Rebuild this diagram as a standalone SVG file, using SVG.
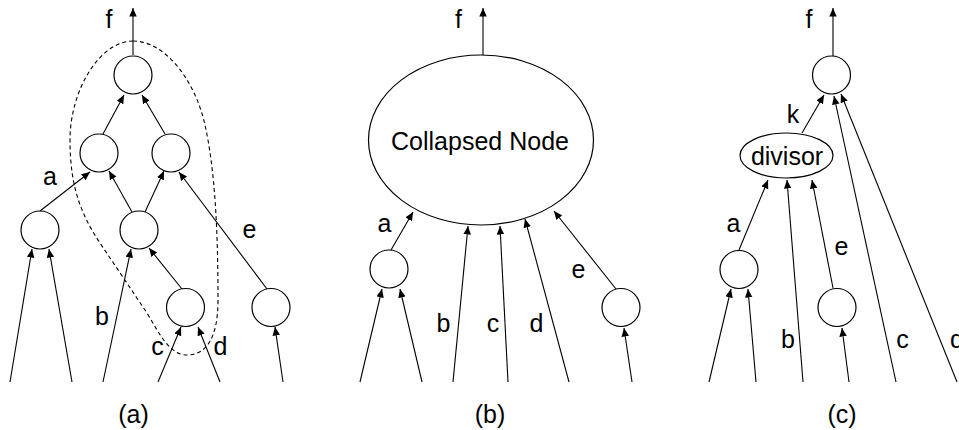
<svg xmlns="http://www.w3.org/2000/svg" width="959" height="430" viewBox="0 0 959 430">
<defs>
<marker id="ah" markerWidth="9" markerHeight="8" refX="8.5" refY="3.75" orient="auto" markerUnits="userSpaceOnUse">
<path d="M0,0 L8.5,3.75 L0,7.5 Z" fill="#000"/>
</marker>
<style>
.n{fill:#fff;stroke:#000;stroke-width:1.2}
.e{fill:none;stroke:#000;stroke-width:1.1;marker-end:url(#ah)}
.t{font-family:"Liberation Sans",Arial,sans-serif;font-size:25px;fill:#000;text-anchor:middle}
.dash{fill:none;stroke:#000;stroke-width:1.1;stroke-dasharray:4,3}
</style>
</defs>
<rect width="959" height="430" fill="#fff"/>

<!-- panel (a) -->
<path class="dash" d="M133,41 C165,41 195,80 205,125 C215,170 218,230 218,300 C218,340 205,355 187,355 C170,355 160,335 147,313 L100,243 C80,213 70,185 70,140 C70,90 100,41 133,41 Z"/>
<g id="connectors">
<line class="e" x1="133" y1="55" x2="133" y2="8"/>
<line class="e" x1="103" y1="134" x2="124" y2="95"/>
<line class="e" x1="165" y1="134" x2="142" y2="95"/>
<line class="e" x1="40" y1="211" x2="90" y2="172"/>
<line class="e" x1="132" y1="212" x2="109" y2="171"/>
<line class="e" x1="145" y1="212" x2="164" y2="171"/>
<line class="e" x1="267" y1="289" x2="179" y2="172"/>
<line class="e" x1="10" y1="382" x2="32" y2="249"/>
<line class="e" x1="72" y1="382" x2="49" y2="249"/>
<line class="e" x1="103" y1="382" x2="131" y2="249"/>
<line class="e" x1="182" y1="289" x2="149" y2="248"/>
<line class="e" x1="158" y1="382" x2="181" y2="327"/>
<line class="e" x1="220" y1="382" x2="198" y2="327"/>
<line class="e" x1="283" y1="382" x2="275" y2="327"/>

<line class="e" x1="483" y1="55" x2="483" y2="8"/>
<line class="e" x1="391" y1="250" x2="413" y2="212"/>
<line class="e" x1="360" y1="382" x2="382" y2="289"/>
<line class="e" x1="422" y1="382" x2="400" y2="289"/>
<line class="e" x1="453" y1="382" x2="468" y2="226"/>
<line class="e" x1="508" y1="382" x2="500" y2="226"/>
<line class="e" x1="569" y1="382" x2="525" y2="219"/>
<line class="e" x1="616" y1="289" x2="554" y2="211"/>
<line class="e" x1="632" y1="382" x2="624" y2="328"/>

<line class="e" x1="833" y1="56" x2="833" y2="8"/>
<line class="e" x1="802" y1="133" x2="824" y2="95"/>
<line class="e" x1="896" y1="382" x2="834" y2="96"/>
<line class="e" x1="957" y1="382" x2="841" y2="94"/>
<line class="e" x1="739" y1="250" x2="768" y2="180"/>
<line class="e" x1="803" y1="382" x2="787" y2="180"/>
<line class="e" x1="833" y1="288" x2="812" y2="180"/>
<line class="e" x1="709" y1="382" x2="731" y2="289"/>
<line class="e" x1="756" y1="382" x2="748" y2="289"/>
<line class="e" x1="849" y1="382" x2="842" y2="328"/>
</g>

<g id="a-top"><circle class="n" cx="133" cy="75" r="19"/></g>
<g id="a-midL"><circle class="n" cx="99" cy="153" r="19"/></g>
<g id="a-midR"><circle class="n" cx="171" cy="153" r="19"/></g>
<g id="a-left"><circle class="n" cx="40" cy="230" r="19"/></g>
<g id="a-mid"><circle class="n" cx="139" cy="230" r="19"/></g>
<g id="a-bot"><circle class="n" cx="185.5" cy="307.5" r="19"/></g>
<g id="a-e"><circle class="n" cx="271" cy="307.5" r="19"/></g>

<g id="b-collapsed"><ellipse class="n" cx="481" cy="140" rx="112.5" ry="85"/><text class="t" x="480" y="150">Collapsed Node</text></g>
<g id="b-a"><circle class="n" cx="389" cy="269" r="19"/></g>
<g id="b-e"><circle class="n" cx="621" cy="307.5" r="19"/></g>

<g id="c-top"><circle class="n" cx="831.5" cy="75" r="19"/></g>
<g id="c-divisor"><ellipse class="n" cx="786.5" cy="155.5" rx="46.5" ry="22.5"/><text class="t" x="787" y="165">divisor</text></g>
<g id="c-a"><circle class="n" cx="739" cy="269.5" r="19"/></g>
<g id="c-e"><circle class="n" cx="837" cy="307.5" r="19"/></g>

<g id="labels">
<text class="t" x="109" y="28">f</text>
<text class="t" x="50" y="185">a</text>
<text class="t" x="249.5" y="238">e</text>
<text class="t" x="102" y="325">b</text>
<text class="t" x="157.5" y="355">c</text>
<text class="t" x="220.5" y="355">d</text>
<text class="t" x="133.5" y="423">(a)</text>

<text class="t" x="458.5" y="28">f</text>
<text class="t" x="384.5" y="232">a</text>
<text class="t" x="443.5" y="332">b</text>
<text class="t" x="493" y="332">c</text>
<text class="t" x="536.5" y="332">d</text>
<text class="t" x="578.5" y="278">e</text>
<text class="t" x="490" y="423">(b)</text>

<text class="t" x="809" y="28">f</text>
<text class="t" x="793" y="123">k</text>
<text class="t" x="733.5" y="232">a</text>
<text class="t" x="788" y="348">b</text>
<text class="t" x="841.5" y="255">e</text>
<text class="t" x="902.5" y="348">c</text>
<text class="t" x="950" y="348" style="text-anchor:start">d</text>
<text class="t" x="842" y="423">(c)</text>
</g>
</svg>
